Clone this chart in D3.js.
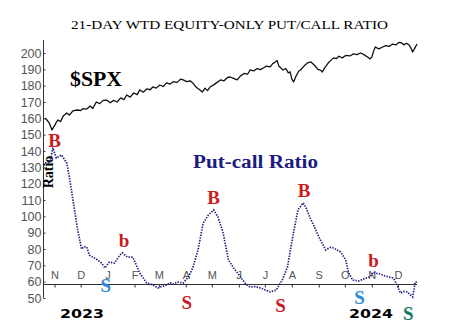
<!DOCTYPE html>
<html>
<head>
<meta charset="utf-8">
<script src="https://cdn.jsdelivr.net/npm/d3@7"></script>
<style>
  body { margin: 0; background: #fff; }
</style>
</head>
<body>
<script>
var width = 458, height = 336;

// ---- data ----
var spxDates = ["2022-10-21","2022-10-24","2022-10-26","2022-10-29","2022-11-01","2022-11-03","2022-11-05","2022-11-08","2022-11-11","2022-11-15","2022-11-18","2022-11-22","2022-11-27","2022-12-01","2022-12-04","2022-12-08","2022-12-12","2022-12-15","2022-12-19","2022-12-23","2022-12-27","2022-12-31",
  "2023-01-04","2023-01-08","2023-01-12","2023-01-16","2023-01-20","2023-01-23","2023-01-27","2023-01-31","2023-02-04","2023-02-07","2023-02-11","2023-02-15","2023-02-19","2023-02-22","2023-02-26","2023-03-02","2023-03-06","2023-03-10","2023-03-14","2023-03-18","2023-03-22","2023-03-26","2023-03-29",
  "2023-04-02","2023-04-06","2023-04-09","2023-04-13","2023-04-17","2023-04-20","2023-04-23","2023-04-26","2023-04-29","2023-05-03","2023-05-07","2023-05-11","2023-05-15","2023-05-19","2023-05-22","2023-05-26","2023-05-30","2023-06-03","2023-06-07","2023-06-11","2023-06-14","2023-06-18","2023-06-22","2023-06-26","2023-06-29",
  "2023-07-03","2023-07-07","2023-07-10","2023-07-13","2023-07-15","2023-07-17","2023-07-20","2023-07-22","2023-07-25","2023-07-28","2023-07-30","2023-08-01","2023-08-03","2023-08-06","2023-08-09","2023-08-11","2023-08-15","2023-08-19","2023-08-23","2023-08-27","2023-08-31",
  "2023-09-03","2023-09-05","2023-09-08","2023-09-12","2023-09-15","2023-09-18","2023-09-21","2023-09-24","2023-09-28","2023-10-02","2023-10-07","2023-10-11","2023-10-15","2023-10-19","2023-10-23","2023-10-27","2023-10-30",
  "2023-11-01","2023-11-03","2023-11-05","2023-11-09","2023-11-13","2023-11-17","2023-11-21","2023-11-25","2023-11-29","2023-12-02","2023-12-05","2023-12-08","2023-12-11","2023-12-14","2023-12-16","2023-12-18","2023-12-20","2023-12-23"];
var spxValues = [160.2,158.5,157,152.9,155.5,157.5,159,158,161.5,163.3,162,164.5,165.1,164.8,166,165.7,167.5,166,170,169,171,171.2,
  169.5,171,170,172.5,171.5,174.3,173,175.5,174.5,177.4,176,178,177.5,179.2,178.5,180.4,179.5,181.7,181,182.5,182,184,183.5,
  182.5,183,181.7,179,177.5,176.1,178.5,177,179.2,180.5,182,183.5,183,185,185.3,184.5,183.5,186,187.5,187,189.6,189,190.5,189.8,190.8,
  192,191.5,193.5,194.5,195.5,192,190.5,189.6,190.5,187.8,188.5,184,182.3,186,189,189.6,192,193.9,194.5,192.5,190,
  189.5,188.4,191,194,195.5,197,196.5,198,197,198.5,198.2,199.5,199,200,199,197.5,196.4,
  197.5,201,203.7,202.5,203.5,204.5,204,205.5,205,206.5,206.2,205,206,204.9,203,200.6,202.5,205.5];

var pcDates = ["2022-10-21","2022-10-27","2022-10-30","2022-11-03","2022-11-09","2022-11-15","2022-11-18","2022-11-21","2022-11-27","2022-12-02","2022-12-05","2022-12-08","2022-12-11","2022-12-15","2022-12-19","2022-12-25","2022-12-29",
  "2023-01-03","2023-01-09","2023-01-15","2023-01-18","2023-01-24","2023-01-30","2023-02-07","2023-02-15","2023-02-22","2023-02-28","2023-03-04","2023-03-08","2023-03-14","2023-03-18","2023-03-22","2023-03-29",
  "2023-04-04","2023-04-09","2023-04-15","2023-04-21","2023-04-27","2023-05-03","2023-05-08","2023-05-14","2023-05-20","2023-05-26","2023-06-03","2023-06-09","2023-06-14","2023-06-20","2023-06-26","2023-07-01","2023-07-07","2023-07-14","2023-07-21","2023-07-27",
  "2023-08-02","2023-08-08","2023-08-14","2023-08-17","2023-08-22","2023-08-27","2023-09-01","2023-09-09","2023-09-14","2023-09-18","2023-09-26","2023-10-02","2023-10-05","2023-10-10","2023-10-17","2023-10-25","2023-10-30",
  "2023-11-03","2023-11-07","2023-11-11","2023-11-16","2023-11-20","2023-11-26","2023-12-01","2023-12-04","2023-12-08","2023-12-12","2023-12-18","2023-12-21","2023-12-23"];
var pcValues = [132.7,133,142,135.7,137.6,132.7,124,114,93.5,80,81.5,81.2,76.3,75,73.9,71.4,68.4,
  72,71.4,76.3,77.6,75,75,65.3,59.2,58,56.1,57,57.5,59.2,58.5,59.8,59.2,
  62.9,68.4,79.4,95.9,100.8,103.9,99.6,89.8,73.3,68.4,62.9,58.5,56.7,57,56.1,55,53.7,54.9,61,69,
  87.4,103.9,108.2,105.7,99,93.5,87.4,79.4,81,80.6,78.2,73.3,65.9,61,60.4,62.2,62.9,
  65.9,65,64.7,63.5,62.9,62.2,56.7,53,54,53.7,50.6,59.8,59.8];

var yTicks = [50,60,70,80,90,100,110,120,130,140,150,160,170,180,190,200];
var monthLetters = ["J","F","M","A","M","J","J","A","S","O","N","D"];

var signalText = ["B","b","S","S","B","S","B","S","b","S"];
var signalDates = ["2022-11-01","2023-01-20","2022-12-30","2023-04-02","2023-05-03","2023-07-19","2023-08-15","2023-10-18","2023-11-03","2023-12-13"];
var signalValues = [146.8,85.5,58,47.5,111.8,45.7,116.1,50.6,73.3,40.8];
var signalKind = ["red","red","blue","red","red","red","red","blue","red","green"];

var parse = d3.timeParse("%Y-%m-%d");
var colors = { red: "#cc1a1f", blue: "#2f8ad6", green: "#137a63" };

var svg = d3.select("body")
    .append("svg")
    .attr("width", width)
    .attr("height", height);

// scales
var xScale = d3.scaleTime()
    .domain([parse("2022-10-21"), parse("2023-12-23")])
    .range([45, 417]);

var yScale = d3.scaleLinear()
    .domain([50, 200])
    .range([298, 53]);

// title
svg.append("text")
    .attr("x", 71).attr("y", 29)
    .attr("textLength", 317)
    .attr("lengthAdjust", "spacingAndGlyphs")
    .style("font-family", "'Liberation Serif', 'Times New Roman', serif")
    .style("font-size", "13.5px")
    .text("21-DAY WTD EQUITY-ONLY PUT/CALL RATIO");

// y axis
var yAxis = d3.axisRight(yScale).tickValues(yTicks).tickSize(2);
var gy = svg.append("g")
    .attr("transform", "translate(43.5,0)")
    .call(yAxis);
gy.select(".domain").attr("d", "M0,40V298").attr("stroke", "#333");
gy.selectAll(".tick line").attr("stroke", "#333");
gy.selectAll(".tick text")
    .attr("x", -2)
    .attr("text-anchor", "end")
    .style("font-family", "'Liberation Sans', Arial, sans-serif")
    .style("font-size", "12.5px")
    .attr("fill", "#555");

// x axis (month ticks, letters above the line)
var xAxis = d3.axisBottom(xScale)
    .ticks(d3.timeMonth.every(1))
    .tickSize(3)
    .tickFormat(function(d) { return monthLetters[d.getMonth()]; });
var gx = svg.append("g")
    .attr("transform", "translate(0,284.5)")
    .call(xAxis);
gx.select(".domain").attr("d", "M44,0H417").attr("stroke", "#333");
gx.selectAll(".tick line").attr("stroke", "#333");
gx.selectAll(".tick text")
    .attr("y", -6)
    .attr("dy", 0)
    .style("font-family", "'Liberation Sans', Arial, sans-serif")
    .style("font-size", "11px")
    .attr("fill", "#555");

// year labels
svg.selectAll(".year")
    .data([["2023", 82], ["2024", 371]])
    .enter()
    .append("text")
    .attr("class", "year")
    .attr("x", function(d) { return d[1]; })
    .attr("y", 318)
    .attr("text-anchor", "middle")
    .attr("textLength", 44)
    .attr("lengthAdjust", "spacingAndGlyphs")
    .style("font-family", "'DejaVu Sans', Verdana, sans-serif")
    .style("font-weight", "bold")
    .style("font-size", "13px")
    .text(function(d) { return d[0]; });

// SPX line
var spx = spxDates.map(function(d, i) { return [parse(d), spxValues[i]]; });
var line = d3.line()
    .x(function(d) { return xScale(d[0]); })
    .y(function(d) { return yScale(d[1]); });

svg.append("path")
    .datum(spx)
    .attr("d", line)
    .attr("fill", "none")
    .attr("stroke", "#111")
    .attr("stroke-width", 1.3)
    .attr("stroke-linejoin", "round");

// "Ratio" rotated label
svg.append("text")
    .attr("transform", "translate(53,172) rotate(-90)")
    .attr("text-anchor", "middle")
    .style("font-family", "'Liberation Serif', 'Times New Roman', serif")
    .style("font-weight", "bold")
    .style("font-size", "14px")
    .text("Ratio");

// put/call ratio dotted line
var pc = pcDates.map(function(d, i) { return [parse(d), pcValues[i]]; });
svg.append("path")
    .datum(pc)
    .attr("d", line)
    .attr("fill", "none")
    .attr("stroke", "#1c1c80")
    .attr("stroke-width", 1.7)
    .attr("stroke-dasharray", "1.4,1.3");

// labels
svg.append("text")
    .attr("x", 70).attr("y", 86)
    .attr("textLength", 52)
    .attr("lengthAdjust", "spacingAndGlyphs")
    .style("font-family", "'Liberation Serif', 'Times New Roman', serif")
    .style("font-weight", "bold")
    .style("font-size", "20px")
    .text("$SPX");

svg.append("text")
    .attr("x", 193).attr("y", 168)
    .attr("textLength", 125)
    .attr("lengthAdjust", "spacingAndGlyphs")
    .style("font-family", "'Liberation Serif', 'Times New Roman', serif")
    .style("font-weight", "bold")
    .style("font-size", "18px")
    .attr("fill", "#1c1c80")
    .text("Put-call Ratio");

// buy / sell signals
svg.selectAll(".signal")
    .data(signalText)
    .enter()
    .append("text")
    .attr("class", "signal")
    .attr("x", function(d, i) { return xScale(parse(signalDates[i])); })
    .attr("y", function(d, i) { return yScale(signalValues[i]); })
    .attr("dy", "0.35em")
    .attr("text-anchor", "middle")
    .style("font-family", "'Liberation Serif', 'Times New Roman', serif")
    .style("font-weight", "bold")
    .style("font-size", "19px")
    .attr("fill", function(d, i) { return colors[signalKind[i]]; })
    .text(function(d) { return d; });
</script>
</body>
</html>
